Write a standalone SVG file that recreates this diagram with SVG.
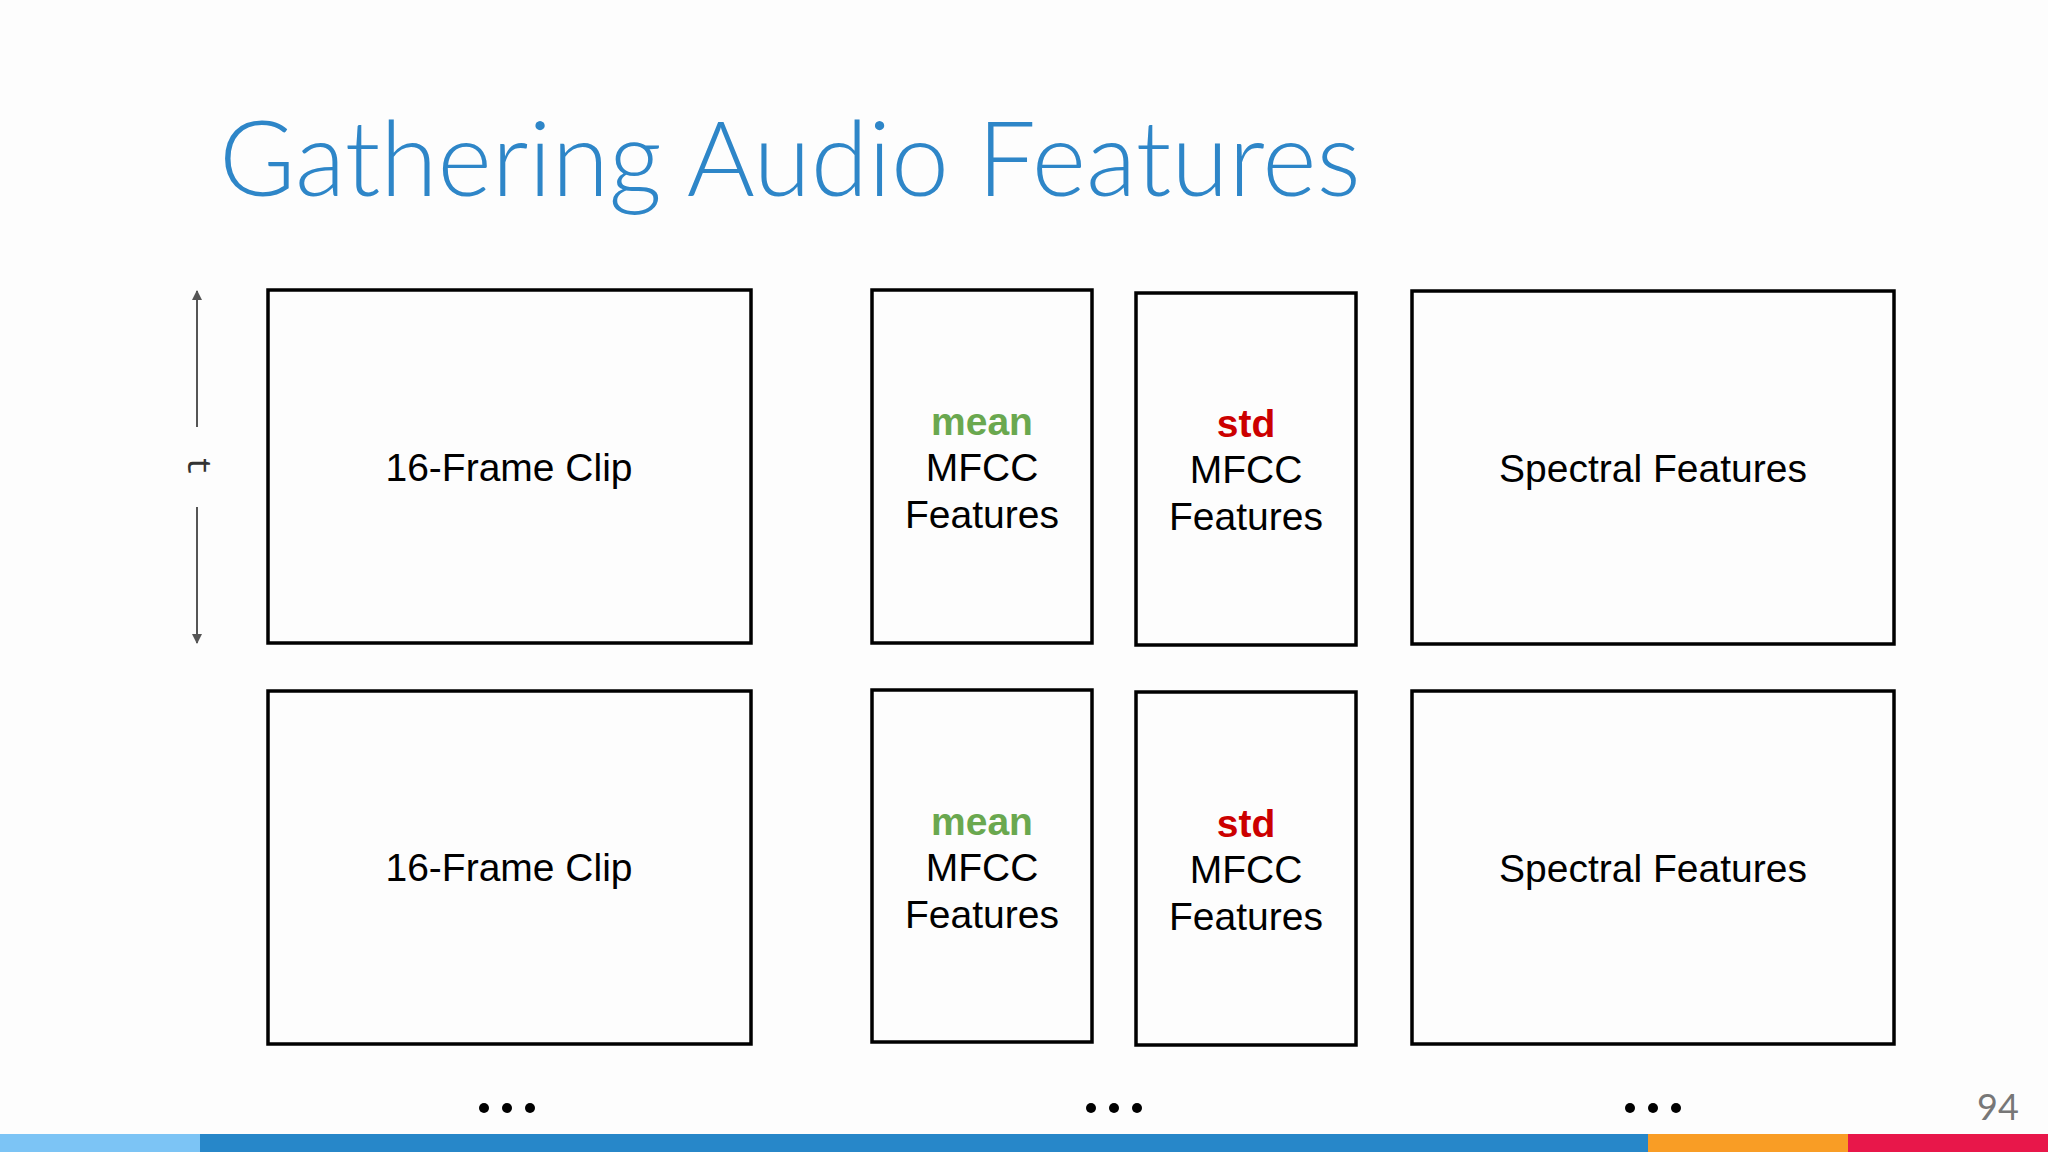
<svg xmlns="http://www.w3.org/2000/svg" width="2048" height="1152" viewBox="0 0 2048 1152">
<style>
.box{fill:#fdfdfd;stroke:#000;stroke-width:3.5}
.lbl{font-family:"Liberation Sans",Arial,sans-serif;font-size:39px;fill:#000;text-anchor:middle}
.mean{fill:#6aa84f;font-weight:bold}
.std{fill:#cc0000;font-weight:bold}
.dots{font-family:"Liberation Sans",Arial,sans-serif;font-size:48px;font-weight:bold;text-anchor:middle}
</style>
<defs>
<marker id="ah" viewBox="0 0 10 10" refX="9" refY="5" markerWidth="5" markerHeight="5" orient="auto"><path d="M0,0 L10,5 L0,10 z" fill="#555"/></marker>
</defs>
<rect width="2048" height="1152" fill="#fdfdfd"/>
<text x="219" y="196" font-family="Lato,'Open Sans',sans-serif" font-weight="300" font-size="104" fill="#2e86c8">Gathering Audio Features</text>
<g id="connectors">
<line x1="197" y1="427" x2="197" y2="291" stroke="#555" stroke-width="2" marker-end="url(#ah)"/>
<line x1="197" y1="507" x2="197" y2="643" stroke="#555" stroke-width="2" marker-end="url(#ah)"/>
<text x="197" y="466" transform="rotate(90 197 466)" font-family="'Liberation Mono',monospace" font-size="34" fill="#333" text-anchor="middle" dominant-baseline="middle">t</text>
</g>
<g id="clip1"><rect class="box" x="268" y="290" width="483" height="353"/><text class="lbl" x="509" y="481">16-Frame Clip</text></g>
<g id="mean1"><rect class="box" x="872" y="290" width="220" height="353"/><text class="lbl mean" x="982" y="435">mean</text><text class="lbl" x="982" y="481">MFCC</text><text class="lbl" x="982" y="528">Features</text></g>
<g id="std1"><rect class="box" x="1136" y="293" width="220" height="352"/><text class="lbl std" x="1246" y="437">std</text><text class="lbl" x="1246" y="483">MFCC</text><text class="lbl" x="1246" y="530">Features</text></g>
<g id="spec1"><rect class="box" x="1412" y="291" width="482" height="353"/><text class="lbl" x="1653" y="482">Spectral Features</text></g>
<g id="clip2"><rect class="box" x="268" y="691" width="483" height="353"/><text class="lbl" x="509" y="881">16-Frame Clip</text></g>
<g id="mean2"><rect class="box" x="872" y="690" width="220" height="352"/><text class="lbl mean" x="982" y="835">mean</text><text class="lbl" x="982" y="881">MFCC</text><text class="lbl" x="982" y="928">Features</text></g>
<g id="std2"><rect class="box" x="1136" y="692" width="220" height="353"/><text class="lbl std" x="1246" y="837">std</text><text class="lbl" x="1246" y="883">MFCC</text><text class="lbl" x="1246" y="930">Features</text></g>
<g id="spec2"><rect class="box" x="1412" y="691" width="482" height="353"/><text class="lbl" x="1653" y="882">Spectral Features</text></g>
<g id="dots">
<circle cx="484" cy="1108" r="5"/><circle cx="507" cy="1108" r="5"/><circle cx="530" cy="1108" r="5"/>
<circle cx="1091" cy="1108" r="5"/><circle cx="1114" cy="1108" r="5"/><circle cx="1137" cy="1108" r="5"/>
<circle cx="1630" cy="1108" r="5"/><circle cx="1653" cy="1108" r="5"/><circle cx="1676" cy="1108" r="5"/>
</g>
<text x="1998" y="1120" font-family="Lato,sans-serif" font-size="36" fill="#777" text-anchor="middle">94</text>
<rect x="0" y="1134" width="200" height="18" fill="#7cc4f5"/>
<rect x="200" y="1134" width="1448" height="18" fill="#2787c9"/>
<rect x="1648" y="1134" width="200" height="18" fill="#f99d25"/>
<rect x="1848" y="1134" width="200" height="18" fill="#e8174a"/>
</svg>
